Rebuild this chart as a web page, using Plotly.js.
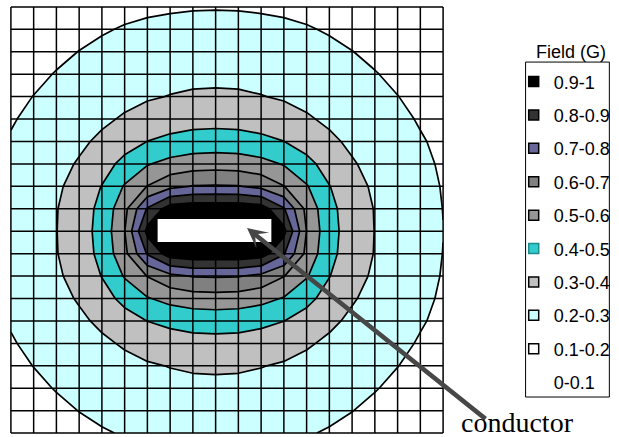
<!DOCTYPE html>
<html><head><meta charset="utf-8">
<script src="https://cdn.plot.ly/plotly-3.0.1.min.js"></script>
<style>html,body{margin:0;padding:0;background:#fff}#chart{width:619px;height:437px}</style>
</head><body><div id="chart"></div>
<script>
// grid point indices (columns / rows of the measurement grid)
const xIdx = [0,1,2,3,4,5,6,7,8,9,10,11,12,13,14,15,16,17,18,19];
const yIdx = [0,1,2,3,4,5,6,7,8,9,10,11,12,13,14,15,16,17,18,19];

// field values (G), one row per grid row, top row first
const row00 = [0.146,0.153,0.161,0.168,0.176,0.182,0.188,0.192,0.195,0.196,0.195,0.192,0.188,0.182,0.176,0.168,0.161,0.153,0.146,0.141];
const row01 = [0.154,0.163,0.173,0.184,0.194,0.205,0.213,0.219,0.223,0.224,0.223,0.219,0.213,0.205,0.194,0.184,0.173,0.163,0.154,0.146];
const row02 = [0.163,0.175,0.187,0.201,0.215,0.227,0.237,0.245,0.250,0.251,0.250,0.245,0.237,0.227,0.215,0.201,0.187,0.175,0.163,0.153];
const row03 = [0.173,0.187,0.203,0.219,0.234,0.248,0.262,0.272,0.278,0.280,0.278,0.272,0.262,0.248,0.234,0.219,0.203,0.187,0.173,0.161];
const row04 = [0.184,0.201,0.217,0.236,0.255,0.274,0.291,0.303,0.311,0.313,0.311,0.303,0.291,0.274,0.255,0.236,0.217,0.201,0.184,0.169];
const row05 = [0.194,0.216,0.234,0.258,0.283,0.311,0.337,0.356,0.367,0.371,0.367,0.356,0.337,0.311,0.283,0.258,0.234,0.216,0.194,0.177];
const row06 = [0.206,0.230,0.252,0.282,0.319,0.361,0.401,0.423,0.437,0.440,0.437,0.423,0.401,0.361,0.319,0.282,0.252,0.230,0.206,0.185];
const row07 = [0.216,0.242,0.270,0.309,0.362,0.427,0.493,0.531,0.553,0.560,0.553,0.531,0.493,0.427,0.362,0.309,0.270,0.242,0.216,0.191];
const row08 = [0.224,0.254,0.285,0.335,0.403,0.508,0.603,0.675,0.705,0.708,0.705,0.675,0.603,0.508,0.403,0.335,0.285,0.254,0.224,0.196];
const row09 = [0.230,0.263,0.296,0.354,0.425,0.572,0.810,0.950,0.970,0.971,0.970,0.950,0.810,0.572,0.425,0.354,0.296,0.263,0.230,0.199];
const row10 = [0.232,0.265,0.298,0.360,0.430,0.598,0.930,1.300,1.300,1.300,1.300,1.300,0.930,0.598,0.430,0.360,0.298,0.265,0.232,0.201];
const row11 = [0.230,0.263,0.296,0.354,0.425,0.572,0.810,0.950,0.970,0.971,0.970,0.950,0.810,0.572,0.425,0.354,0.296,0.263,0.230,0.199];
const row12 = [0.224,0.254,0.285,0.335,0.403,0.508,0.603,0.675,0.705,0.708,0.705,0.675,0.603,0.508,0.403,0.335,0.285,0.254,0.224,0.196];
const row13 = [0.216,0.242,0.270,0.309,0.362,0.427,0.493,0.531,0.553,0.560,0.553,0.531,0.493,0.427,0.362,0.309,0.270,0.242,0.216,0.191];
const row14 = [0.206,0.230,0.252,0.282,0.319,0.361,0.401,0.423,0.437,0.440,0.437,0.423,0.401,0.361,0.319,0.282,0.252,0.230,0.206,0.185];
const row15 = [0.194,0.216,0.234,0.258,0.283,0.311,0.337,0.356,0.367,0.371,0.367,0.356,0.337,0.311,0.283,0.258,0.234,0.216,0.194,0.177];
const row16 = [0.184,0.201,0.217,0.236,0.255,0.274,0.291,0.303,0.311,0.313,0.311,0.303,0.291,0.274,0.255,0.236,0.217,0.201,0.184,0.169];
const row17 = [0.173,0.187,0.203,0.219,0.234,0.248,0.262,0.272,0.278,0.280,0.278,0.272,0.262,0.248,0.234,0.219,0.203,0.187,0.173,0.161];
const row18 = [0.163,0.175,0.187,0.201,0.215,0.227,0.237,0.245,0.250,0.251,0.250,0.245,0.237,0.227,0.215,0.201,0.187,0.175,0.163,0.153];
const row19 = [0.154,0.163,0.173,0.184,0.194,0.205,0.213,0.219,0.223,0.224,0.223,0.219,0.213,0.205,0.194,0.184,0.173,0.163,0.154,0.146];

// legend bands, lowest first
const bandLabels = ['0-0.1','0.1-0.2','0.2-0.3','0.3-0.4','0.4-0.5','0.5-0.6','0.6-0.7','0.7-0.8','0.8-0.9','0.9-1'];
const bandColors = ['#FFFFFF','#FFFFFF','#CCFFFF','#C0C0C0','#33CCCC','#969696','#808080','#666699','#333333','#000000'];
const swatchBorders = ['rgba(0,0,0,0)','#000000','#000000','#000000','#1E8C8C','#000000','#000000','#000000','#000000','#000000'];

// conductor cross-section (grid units) and annotation text
const conductorX = [6.45, 11.45];
const conductorY = [9.46, 10.48];
const legendTitle = 'Field (G)';
const conductorLabel = 'conductor';
const arrowTip = [10.38, 9.86];

const z = [row00,row01,row02,row03,row04,row05,row06,row07,row08,row09,row10,row11,row12,row13,row14,row15,row16,row17,row18,row19];
const nb = bandColors.length;
const colorscale = bandColors.map((c, k) => [k / (nb - 1), c]);

const traces = [{
  type: 'contour', x: xIdx, y: yIdx, z: z,
  contours: {start: 0.1, end: 0.9, size: 0.1, coloring: 'fill', showlines: true},
  line: {color: '#000', width: 1.7, smoothing: 0},
  colorscale: colorscale, showscale: false, hoverinfo: 'skip', showlegend: false
}];
for (let k = nb - 1; k >= 0; k--) {
  traces.push({
    type: 'scatter', mode: 'markers', x: [null], y: [null],
    name: bandLabels[k], legendgroup: 'g' + k,
    marker: {symbol: 'square', size: 10, color: bandColors[k],
             opacity: k === 0 ? 0 : 1,
             line: {color: swatchBorders[k], width: 1.5}},
    hoverinfo: 'skip'
  });
}

const shapes = [];
xIdx.forEach(v => shapes.push({type: 'line', xref: 'x', yref: 'y', x0: v, x1: v, y0: yIdx[0], y1: yIdx[yIdx.length-1], line: {color: '#000', width: 1.5}}));
yIdx.forEach(v => shapes.push({type: 'line', xref: 'x', yref: 'y', y0: v, y1: v, x0: xIdx[0], x1: xIdx[xIdx.length-1], line: {color: '#000', width: 1.5}}));
shapes.push({type: 'rect', xref: 'x', yref: 'y', x0: conductorX[0], x1: conductorX[1], y0: conductorY[0], y1: conductorY[1], fillcolor: '#FFFFFF', line: {width: 0}});
// legend frame
shapes.push({type: 'rect', xref: 'paper', yref: 'paper', x0: 1.188, x1: 1.381, y0: 0.0864, y1: 0.869, fillcolor: 'rgba(0,0,0,0)', line: {color: '#000', width: 1}});

const layout = {
  width: 619, height: 437,
  margin: {l: 10, r: 173, t: 6, b: 3},
  paper_bgcolor: '#fff', plot_bgcolor: '#fff',
  font: {family: '"Liberation Sans", Arial, sans-serif', size: 15, color: '#000'},
  xaxis: {range: [-0.04, 19.04], showgrid: false, zeroline: false, showticklabels: false, ticks: '', showline: false, fixedrange: true},
  yaxis: {range: [19.04, -0.04], showgrid: false, zeroline: false, showticklabels: false, ticks: '', showline: false, fixedrange: true},
  showlegend: true,
  legend: {x: 1.1606, xanchor: 'left', y: 0.866, yanchor: 'top', borderwidth: 0,
           bgcolor: 'rgba(0,0,0,0)', tracegroupgap: 7,
           font: {family: '"Liberation Sans Narrow", "Liberation Sans", Arial, sans-serif', size: 18}},
  shapes: shapes,
  annotations: [
    {xref: 'paper', yref: 'paper', x: 1.2936, y: 0.8925, xanchor: 'center', yanchor: 'middle',
     text: legendTitle, showarrow: false, font: {size: 18}},
    {xref: 'x', yref: 'y', x: arrowTip[0], y: arrowTip[1], ax: 240, ay: 192, text: '',
     showarrow: true, arrowhead: 3, arrowsize: 0.75, arrowwidth: 4.5, arrowcolor: '#474747', standoff: 0},
    {xref: 'paper', yref: 'paper', x: 1.170, y: 0.026, xanchor: 'center', yanchor: 'middle',
     text: conductorLabel, showarrow: false,
     font: {family: '"Liberation Serif", "Times New Roman", serif', size: 28, color: '#000'}}
  ]
};
Plotly.newPlot('chart', traces, layout, {displayModeBar: false, staticPlot: true});
</script></body></html>
